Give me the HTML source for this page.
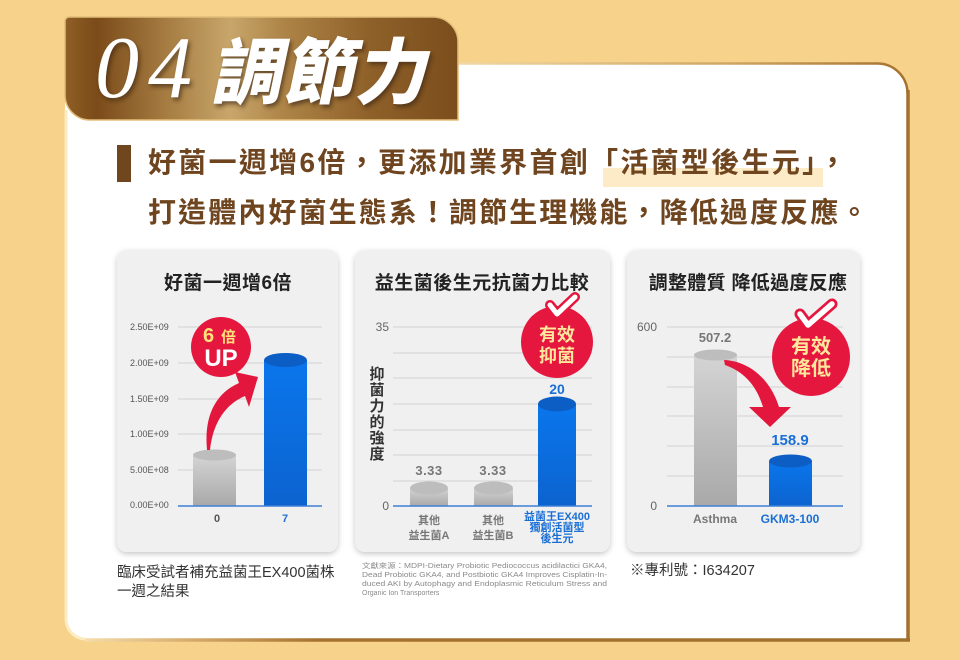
<!DOCTYPE html>
<html><head><meta charset="utf-8">
<style>
html,body{margin:0;padding:0;background:#f6d28b;}
svg{display:block;}
text{font-family:"Liberation Sans","Noto Sans CJK TC",sans-serif;}
.cjk{font-family:"Liberation Sans","Noto Sans CJK TC",sans-serif;}
</style></head>
<body>
<svg width="960" height="660" viewBox="0 0 960 660" xmlns="http://www.w3.org/2000/svg">
<defs>
  <linearGradient id="tabg" gradientUnits="userSpaceOnUse" x1="65" y1="0" x2="458" y2="0">
    <stop offset="0" stop-color="#8f5f26"/>
    <stop offset="0.08" stop-color="#7b4b19"/>
    <stop offset="0.25" stop-color="#a47a40"/>
    <stop offset="0.42" stop-color="#c8a66b"/>
    <stop offset="0.56" stop-color="#ad8346"/>
    <stop offset="0.78" stop-color="#8e6029"/>
    <stop offset="1" stop-color="#7b4d1c"/>
  </linearGradient>
  <linearGradient id="botg" gradientUnits="userSpaceOnUse" x1="65" y1="0" x2="908" y2="0">
    <stop offset="0" stop-color="#fbe6b8"/>
    <stop offset="0.15" stop-color="#d5aa6a"/>
    <stop offset="0.3" stop-color="#a5712f"/>
    <stop offset="1" stop-color="#a0702f"/>
  </linearGradient>
  <linearGradient id="topg" gradientUnits="userSpaceOnUse" x1="458" y1="0" x2="908" y2="0">
    <stop offset="0" stop-color="#f1d8a6"/>
    <stop offset="0.6" stop-color="#cfa663"/>
    <stop offset="1" stop-color="#a5712f"/>
  </linearGradient>
  <linearGradient id="grayb" x1="0" y1="0" x2="0" y2="1">
    <stop offset="0" stop-color="#d4d4d4"/>
    <stop offset="1" stop-color="#a9a9a9"/>
  </linearGradient>
  <linearGradient id="blueb" x1="0" y1="0" x2="0" y2="1">
    <stop offset="0" stop-color="#0a76ec"/>
    <stop offset="1" stop-color="#0c63cf"/>
  </linearGradient>
  <filter id="tsh" x="-10%" y="-10%" width="130%" height="140%">
    <feDropShadow dx="2" dy="3" stdDeviation="2" flood-color="#3b2208" flood-opacity="0.65"/>
  </filter>
  <filter id="csh" x="-10%" y="-10%" width="120%" height="120%">
    <feDropShadow dx="0" dy="2" stdDeviation="3" flood-color="#000" flood-opacity="0.22"/>
  </filter>
</defs>

<rect width="960" height="660" fill="#f6d28b"/>

<!-- white panel -->
<path d="M65 63 H878 A30 30 0 0 1 908 93 V640 H85 A20 20 0 0 1 65 620 Z" fill="#ffffff"/>
<path d="M458 63.5 H878 A30 30 0 0 1 907.5 93" fill="none" stroke="url(#topg)" stroke-width="2.5"/>
<path d="M908 90 V640" fill="none" stroke="#a4702f" stroke-width="3.5"/>
<path d="M85 640 H910" fill="none" stroke="url(#botg)" stroke-width="3.5"/>
<path d="M66 110 V620 A20 20 0 0 0 85 639" fill="none" stroke="#fdebc2" stroke-width="3"/>

<!-- tab -->
<path d="M69 17 H433 A25 25 0 0 1 458 42 V120 H90 A25 25 0 0 1 65 95 V21 A4 4 0 0 1 69 17 Z" fill="url(#tabg)" stroke="#e2bd79" stroke-width="1.5"/>
<g filter="url(#tsh)" fill="#ffffff">
  <text x="95" y="97" style="font-family:'Liberation Serif',serif;font-style:italic;" font-size="88" letter-spacing="9">04</text>
  <g transform="translate(210,98) skewX(-12)">
    <text x="0" y="0" font-size="72" font-weight="900" class="cjk">調節力</text>
  </g>
</g>

<!-- subheading -->
<rect x="117" y="145" width="14" height="37" fill="#70461f"/>
<rect x="603" y="168" width="220" height="19" fill="#fcebc6"/>
<text x="148" y="172" font-size="28" font-weight="bold" fill="#6f4520" letter-spacing="2.3">好菌一週增6倍，更添加業界首創「活菌型後生元」，</text>
<text x="148" y="222" font-size="28" font-weight="bold" fill="#6f4520" letter-spacing="2.1">打造體內好菌生態系！調節生理機能，降低過度反應。</text>

<!-- cards -->
<g filter="url(#csh)">
  <rect x="117" y="250" width="221" height="302" rx="10" fill="#f0f0f0"/>
  <rect x="355" y="250" width="255" height="302" rx="10" fill="#f0f0f0"/>
  <rect x="627" y="250" width="233" height="302" rx="10" fill="#f0f0f0"/>
</g>

<!-- card titles -->
<text x="228" y="289" font-size="19" font-weight="bold" fill="#222" text-anchor="middle" letter-spacing="0.5">好菌一週增6倍</text>
<text x="482" y="289" font-size="19" font-weight="bold" fill="#222" text-anchor="middle" letter-spacing="0.5">益生菌後生元抗菌力比較</text>
<text x="748" y="289" font-size="19" font-weight="bold" fill="#222" text-anchor="middle" letter-spacing="0.3">調整體質 降低過度反應</text>

<!-- ===== chart 1 ===== -->
<g stroke="#d2d2d2" stroke-width="1">
  <line x1="178" y1="327" x2="322" y2="327"/>
  <line x1="178" y1="363" x2="322" y2="363"/>
  <line x1="178" y1="399" x2="322" y2="399"/>
  <line x1="178" y1="434" x2="322" y2="434"/>
  <line x1="178" y1="470" x2="322" y2="470"/>
</g>
<g font-size="9" fill="#555">
  <text x="130" y="330">2.50E+09</text>
  <text x="130" y="366">2.00E+09</text>
  <text x="130" y="402">1.50E+09</text>
  <text x="130" y="437">1.00E+09</text>
  <text x="130" y="473">5.00E+08</text>
  <text x="130" y="508">0.00E+00</text>
</g>
<rect x="193" y="455" width="43" height="51" fill="url(#grayb)"/>
<ellipse cx="214.5" cy="455" rx="21.5" ry="5.5" fill="#bdbdbd"/>
<rect x="264" y="360" width="43" height="146" fill="url(#blueb)"/>
<ellipse cx="285.5" cy="360" rx="21.5" ry="7" fill="#0c5ec5"/>
<line x1="178" y1="506" x2="322" y2="506" stroke="#3d7fd6" stroke-width="1.5"/>
<text x="217" y="522" font-size="11" font-weight="bold" fill="#555" text-anchor="middle">0</text>
<text x="285" y="522" font-size="11" font-weight="bold" fill="#1f6fd6" text-anchor="middle">7</text>
<path d="M207 450 C204 418 214 394 239 383 L235 372 L258 377 L249 407 L245 396 C226 404 213 422 210 450 Z" fill="#e3173d"/>
<circle cx="221" cy="347" r="30" fill="#e5173f"/>
<text x="203" y="342" font-size="20" font-weight="bold" fill="#ffe27a">6</text>
<text x="221" y="342" font-size="15" font-weight="bold" fill="#ffe27a">倍</text>
<text x="221" y="366" font-size="24" font-weight="bold" fill="#ffffff" text-anchor="middle">UP</text>

<!-- ===== chart 2 ===== -->
<g stroke="#d2d2d2" stroke-width="1">
  <line x1="393" y1="327" x2="592" y2="327"/>
  <line x1="393" y1="353" x2="592" y2="353"/>
  <line x1="393" y1="378" x2="592" y2="378"/>
  <line x1="393" y1="404" x2="592" y2="404"/>
  <line x1="393" y1="430" x2="592" y2="430"/>
  <line x1="393" y1="455" x2="592" y2="455"/>
  <line x1="393" y1="481" x2="592" y2="481"/>
</g>
<text x="389" y="331" font-size="12" fill="#666" text-anchor="end">35</text>
<text x="389" y="510" font-size="12" fill="#666" text-anchor="end">0</text>
<g font-size="15" font-weight="bold" fill="#333" text-anchor="middle">
  <text x="377" y="379">抑</text>
  <text x="377" y="395">菌</text>
  <text x="377" y="411">力</text>
  <text x="377" y="427">的</text>
  <text x="377" y="443">強</text>
  <text x="377" y="459">度</text>
</g>
<rect x="410" y="488" width="38" height="18" fill="url(#grayb)"/>
<ellipse cx="429" cy="488" rx="19" ry="6.5" fill="#bdbdbd"/>
<rect x="474" y="488" width="39" height="18" fill="url(#grayb)"/>
<ellipse cx="493.5" cy="488" rx="19.5" ry="6.5" fill="#bdbdbd"/>
<rect x="538" y="404" width="38" height="102" fill="url(#blueb)"/>
<ellipse cx="557" cy="404" rx="19" ry="7.5" fill="#0c5ec5"/>
<line x1="393" y1="506" x2="592" y2="506" stroke="#3d7fd6" stroke-width="1.5"/>
<text x="429" y="475" font-size="13" font-weight="bold" fill="#777" text-anchor="middle" letter-spacing="0.5">3.33</text>
<text x="493" y="475" font-size="13" font-weight="bold" fill="#777" text-anchor="middle" letter-spacing="0.5">3.33</text>
<text x="557" y="394" font-size="14" font-weight="bold" fill="#1a6fd6" text-anchor="middle">20</text>
<g font-size="11" font-weight="bold" fill="#777" text-anchor="middle">
  <text x="429" y="524">其他</text>
  <text x="429" y="539">益生菌A</text>
  <text x="493" y="524">其他</text>
  <text x="493" y="539">益生菌B</text>
</g>
<g font-size="11" font-weight="bold" fill="#1a6fd6" text-anchor="middle">
  <text x="557" y="520">益菌王EX400</text>
  <text x="557" y="531">獨創活菌型</text>
  <text x="557" y="542">後生元</text>
</g>
<circle cx="557" cy="342" r="36" fill="#e5173f"/>
<polyline points="550,305 557,314 575,297" fill="none" stroke="#e5173f" stroke-width="10" stroke-linecap="round" stroke-linejoin="round"/>
<polyline points="550,305 557,314 575,297" fill="none" stroke="#ffffff" stroke-width="5" stroke-linecap="round" stroke-linejoin="round"/>
<text x="557" y="341" font-size="18" font-weight="bold" fill="#ffe79c" text-anchor="middle">有效</text>
<text x="557" y="362" font-size="18" font-weight="bold" fill="#ffe79c" text-anchor="middle">抑菌</text>

<!-- ===== chart 3 ===== -->
<g stroke="#d2d2d2" stroke-width="1">
  <line x1="667" y1="327" x2="843" y2="327"/>
  <line x1="667" y1="357" x2="843" y2="357"/>
  <line x1="667" y1="387" x2="843" y2="387"/>
  <line x1="667" y1="416" x2="843" y2="416"/>
  <line x1="667" y1="446" x2="843" y2="446"/>
  <line x1="667" y1="476" x2="843" y2="476"/>
</g>
<text x="657" y="331" font-size="12" fill="#666" text-anchor="end">600</text>
<text x="657" y="510" font-size="12" fill="#666" text-anchor="end">0</text>
<rect x="694" y="355" width="43" height="151" fill="url(#grayb)"/>
<ellipse cx="715.5" cy="355" rx="21.5" ry="5.5" fill="#bdbdbd"/>
<rect x="769" y="461" width="43" height="45" fill="url(#blueb)"/>
<ellipse cx="790.5" cy="461" rx="21.5" ry="6.5" fill="#0c5ec5"/>
<line x1="667" y1="506" x2="843" y2="506" stroke="#3d7fd6" stroke-width="1.5"/>
<text x="715" y="342" font-size="13" font-weight="bold" fill="#777" text-anchor="middle">507.2</text>
<text x="790" y="445" font-size="15" font-weight="bold" fill="#1a6fd6" text-anchor="middle">158.9</text>
<text x="715" y="523" font-size="12" font-weight="bold" fill="#777" text-anchor="middle">Asthma</text>
<text x="790" y="523" font-size="12" font-weight="bold" fill="#1a6fd6" text-anchor="middle">GKM3-100</text>
<path d="M724 360 C748 361 770 378 779 407 L791 407 L770 427 L749 407 L763 407 C757 387 745 372 725 365 Z" fill="#e3173d"/>
<circle cx="811" cy="357" r="39" fill="#e5173f"/>
<polyline points="800,314 808,325 832,304" fill="none" stroke="#e5173f" stroke-width="11" stroke-linecap="round" stroke-linejoin="round"/>
<polyline points="800,314 808,325 832,304" fill="none" stroke="#ffffff" stroke-width="5.5" stroke-linecap="round" stroke-linejoin="round"/>
<text x="811" y="353" font-size="20" font-weight="bold" fill="#ffe79c" text-anchor="middle">有效</text>
<text x="811" y="375" font-size="20" font-weight="bold" fill="#ffe79c" text-anchor="middle">降低</text>

<!-- footnotes -->
<text x="117" y="577" font-size="14.5" fill="#333">臨床受試者補充益菌王EX400菌株</text>
<text x="117" y="596" font-size="14.5" fill="#333">一週之結果</text>
<g font-size="7" fill="#8a8a8a">
  <text x="362" y="568" textLength="245" lengthAdjust="spacingAndGlyphs">文獻來源：MDPI-Dietary Probiotic Pediococcus acidilactici GKA4,</text>
  <text x="362" y="577" textLength="245" lengthAdjust="spacingAndGlyphs">Dead Probiotic GKA4, and Postbiotic GKA4 Improves Cisplatin-In-</text>
  <text x="362" y="586" textLength="245" lengthAdjust="spacingAndGlyphs">duced AKI by Autophagy and Endoplasmic Reticulum Stress and</text>
  <text x="362" y="595">Organic Ion Transporters</text>
</g>
<text x="630" y="575" font-size="14.5" fill="#333">※專利號：I634207</text>
</svg>
</body></html>
